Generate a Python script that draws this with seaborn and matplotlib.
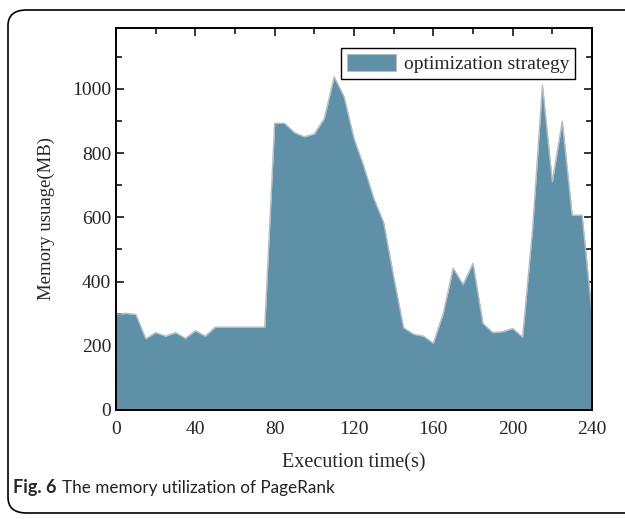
import numpy as np
import pandas as pd
import matplotlib
matplotlib.use("Agg")
import matplotlib.pyplot as plt
import seaborn as sns
from matplotlib.patches import FancyBboxPatch, Patch
from matplotlib.ticker import MultipleLocator

time_s = [0, 5, 10, 15, 20, 25, 30, 35, 40, 45, 50, 55, 60, 65, 70, 75,
          80, 85, 90, 95, 100, 105, 110, 115, 120, 125, 130, 135, 140, 145,
          150, 155, 160, 165, 170, 175, 180, 185, 190, 195, 200, 205, 210,
          215, 220, 225, 230, 235, 240]
memory_mb = [298, 301, 298, 222, 241, 230, 241, 223, 247, 230, 258, 258, 258,
             258, 258, 258, 893, 893, 864, 851, 860, 908, 1038, 976, 846, 758,
             659, 583, 415, 256, 236, 230, 208, 301, 442, 391, 457, 270, 241,
             244, 254, 227, 560, 1012, 711, 900, 607, 607, 300]
series_name = "optimization strategy"
x_label = "Execution time(s)"
y_label = "Memory usuage(MB)"
caption_bold = "Fig. 6"
caption_text = "The memory utilization of PageRank"

df = pd.DataFrame({"time": time_s, "mem": memory_mb})

sns.set_style("ticks")
plt.rcParams["font.family"] = ["Liberation Serif", "DejaVu Serif"]

fig = plt.figure(figsize=(6.25, 5.19), dpi=100)
W, H = 625, 519
ax = fig.add_axes([116 / W, 1 - 410 / H, (592 - 116) / W, (410 - 28) / H])

fill_color = "#5e90a8"
ax.fill_between(df["time"], 0, df["mem"], color=fill_color, linewidth=0, zorder=2)
sns.lineplot(data=df, x="time", y="mem", ax=ax, color="#b8bcc0", linewidth=1.0,
             zorder=3, legend=False)

ax.set_xlim(0, 240)
ax.set_ylim(0, 1190)
ax.xaxis.set_major_locator(MultipleLocator(40))
ax.xaxis.set_minor_locator(MultipleLocator(20))
ax.yaxis.set_major_locator(MultipleLocator(200))
ax.yaxis.set_minor_locator(MultipleLocator(100))
ax.tick_params(which="both", direction="in", top=True, right=True, width=1.1,
               labelsize=14, color="black")
ax.tick_params(which="major", length=6)
ax.tick_params(which="minor", length=4)
ax.tick_params(axis="x", pad=8)
for s in ax.spines.values():
    s.set_linewidth(1.4)
    s.set_color("black")
    s.set_zorder(5)
ax.set_xlabel(x_label, fontsize=14.5, labelpad=11)
ax.set_ylabel(y_label, fontsize=13.5, labelpad=12)

handle = Patch(facecolor=fill_color, edgecolor="#b8bcc0", linewidth=0.8)
leg = ax.legend([handle], [series_name], loc="upper right", fontsize=14,
                frameon=True, fancybox=False, edgecolor="black",
                framealpha=1, borderpad=0.3, handlelength=2.5, handleheight=0.95,
                handletextpad=0.4, borderaxespad=0,
                bbox_to_anchor=((575 - 116) / 476, (410 - 48) / 382))
leg.get_frame().set_linewidth(1.0)

# rounded figure frame
frame = FancyBboxPatch((8 / W, 6 / H), (W + 20) / W, (H - 16) / H,
                       boxstyle="round,pad=0,rounding_size=0.03",
                       transform=fig.transFigure, fill=False,
                       edgecolor="black", linewidth=1.2, clip_on=False)
fig.patches.append(frame)

t1 = fig.text(13 / W, 1 - 488 / H, caption_bold, fontsize=13, fontweight="bold",
              family=["Lato", "DejaVu Sans"], va="center", ha="left")
fig.canvas.draw()
bb = t1.get_window_extent()
fig.text((bb.x1 + 5) / W, 1 - 488 / H, caption_text, fontsize=12.3,
         family=["Lato", "DejaVu Sans"], va="center", ha="left", color="#222222")

fig.savefig("out.png", dpi=100)
